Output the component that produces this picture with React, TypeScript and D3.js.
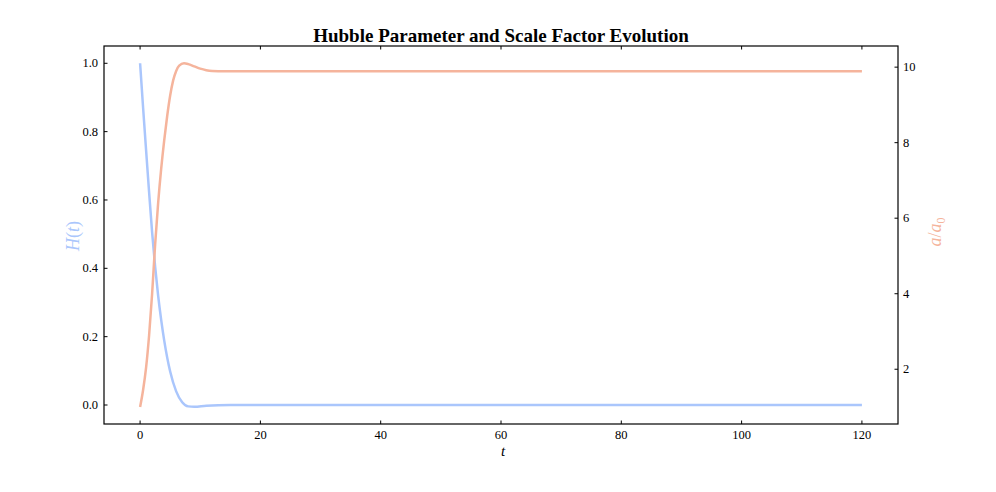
import React from "react";
import * as d3 from "d3";

const tH = [0, 0.5, 1, 1.5, 2, 2.5, 3, 3.5, 4, 5, 6, 7, 8, 9, 11, 15, 20, 40, 60, 80, 100, 120];
const hValues = [1.0, 0.87, 0.745, 0.622, 0.505, 0.405, 0.32, 0.25, 0.19, 0.098, 0.04, 0.008, -0.004, -0.005, -0.002, 0, 0, 0, 0, 0, 0, 0];

const tA = [0, 0.5, 1, 1.5, 2, 2.5, 3, 3.5, 4, 4.5, 5, 5.5, 6, 6.5, 7.3, 8, 9, 10, 11, 12, 14, 20, 40, 60, 80, 100, 120];
const aValues = [1.0, 1.45, 2.05, 2.9, 4.0, 5.3, 6.4, 7.3, 8.05, 8.7, 9.25, 9.65, 9.9, 10.04, 10.1, 10.08, 10.02, 9.96, 9.92, 9.9, 9.89, 9.89, 9.89, 9.89, 9.89, 9.89, 9.89];

const xTicks = [0, 20, 40, 60, 80, 100, 120];
const hTicks = [0.0, 0.2, 0.4, 0.6, 0.8, 1.0];
const aTicks = [2, 4, 6, 8, 10];

const W = 996;
const H = 492;
const left = 104, right = 898, top = 46, bottom = 424;
const blue = "#aac6fc";
const orange = "#f5b49c";
const font = "'Liberation Serif', 'DejaVu Serif', serif";

export default function App() {
  const x = d3.scaleLinear().domain([-6, 126]).range([left, right]);
  const yH = d3.scaleLinear().domain([-0.0556, 1.0506]).range([bottom, top]);
  const yA = d3.scaleLinear().domain([0.55, 10.56]).range([bottom, top]);

  const lineH = d3.line<number>().x((_, i) => x(tH[i])).y((d) => yH(d)).curve(d3.curveMonotoneX);
  const lineA = d3.line<number>().x((_, i) => x(tA[i])).y((d) => yA(d)).curve(d3.curveMonotoneX);

  const tl = 3.5;
  return (
    <svg width={W} height={H} style={{ position: "absolute", left: 0, top: 0 }} fontFamily={font}>
      <rect width={W} height={H} fill="#fff" />
      <path d={lineH(hValues) || ""} fill="none" stroke={blue} strokeWidth={2.5} />
      <path d={lineA(aValues) || ""} fill="none" stroke={orange} strokeWidth={2.5} />
      <rect x={left} y={top} width={right - left} height={bottom - top} fill="none" stroke="#000" strokeWidth={1.2} />
      {xTicks.map((t) => (
        <g key={"x" + t}>
          <line x1={x(t)} x2={x(t)} y1={bottom} y2={bottom - tl} stroke="#000" strokeWidth={1} />
          <line x1={x(t)} x2={x(t)} y1={top} y2={top + tl} stroke="#000" strokeWidth={1} />
          <text x={x(t)} y={bottom + 15} textAnchor="middle" fontSize={12.5}>{t}</text>
        </g>
      ))}
      {hTicks.map((v) => (
        <g key={"h" + v}>
          <line x1={left} x2={left + tl} y1={yH(v)} y2={yH(v)} stroke="#000" strokeWidth={1} />
          <text x={left - 6} y={yH(v) + 4} textAnchor="end" fontSize={12.5}>{v.toFixed(1)}</text>
        </g>
      ))}
      {aTicks.map((v) => (
        <g key={"a" + v}>
          <line x1={right} x2={right - tl} y1={yA(v)} y2={yA(v)} stroke="#000" strokeWidth={1} />
          <text x={right + 5} y={yA(v) + 4} textAnchor="start" fontSize={12.5}>{v}</text>
        </g>
      ))}
      <text x={(left + right) / 2} y={42} textAnchor="middle" fontSize={19} fontWeight="bold">
        Hubble Parameter and Scale Factor Evolution
      </text>
      <text x={503} y={456} textAnchor="middle" fontSize={15} fontStyle="italic">t</text>
      <text transform={`translate(79,236) rotate(-90)`} textAnchor="middle" fontSize={18} fill={blue}>
        <tspan fontStyle="italic">H</tspan>
        <tspan>(</tspan>
        <tspan fontStyle="italic">t</tspan>
        <tspan>)</tspan>
      </text>
      <text transform={`translate(941,232) rotate(-90)`} textAnchor="middle" fontSize={18} fill={orange}>
        <tspan fontStyle="italic">a</tspan>
        <tspan>/</tspan>
        <tspan fontStyle="italic">a</tspan>
        <tspan fontSize={12} dy={4}>0</tspan>
      </text>
    </svg>
  );
}
